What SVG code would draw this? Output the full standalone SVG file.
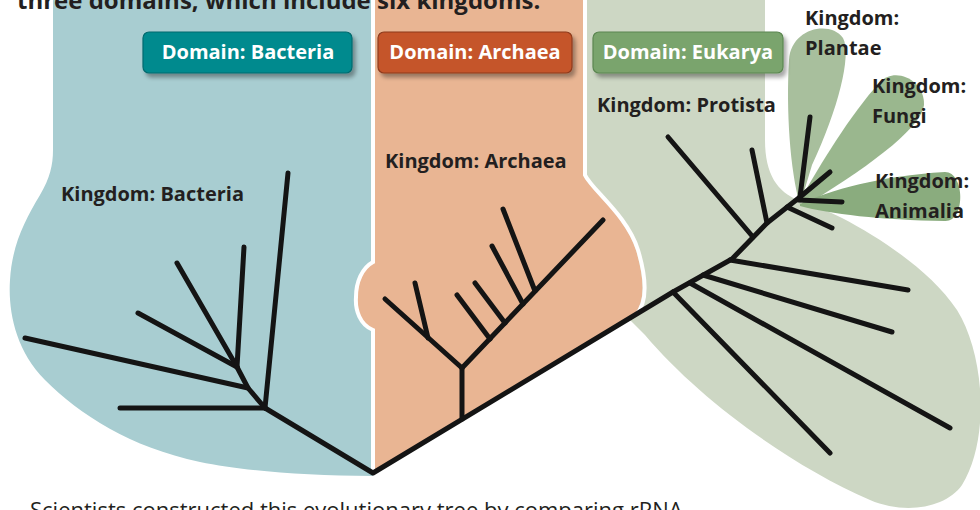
<svg xmlns="http://www.w3.org/2000/svg" width="980" height="510" viewBox="0 0 980 510">
<defs>
<style>
.lbl{font-family:"Open Sans","Liberation Sans",sans-serif;font-weight:700;font-size:20px;fill:#231f20}
.dom{font-family:"Open Sans","Liberation Sans",sans-serif;font-weight:700;font-size:20px;fill:#ffffff;text-anchor:middle}
.br{fill:none;stroke:#141414;stroke-width:5;stroke-linecap:round;stroke-linejoin:round}
.sep{fill:none;stroke:#ffffff;stroke-width:4}
.title{font-family:"Open Sans","Liberation Sans",sans-serif;font-weight:700;font-size:24px;fill:#231f20}
.cap{font-family:"Open Sans","Liberation Sans",sans-serif;font-weight:400;font-size:22px;fill:#231f20}
</style>
<filter id="sh" x="-10%" y="-20%" width="130%" height="160%">
<feGaussianBlur in="SourceAlpha" stdDeviation="2"/>
<feOffset dx="3" dy="4" result="b"/>
<feComponentTransfer><feFuncA type="linear" slope="0.35"/></feComponentTransfer>
<feMerge><feMergeNode/><feMergeNode in="SourceGraphic"/></feMerge>
</filter>
</defs>
<rect width="980" height="510" fill="#ffffff"/>

<!-- regions -->
<g id="region-bacteria">
<path d="M53,0 L373,0 L373,476 C300,476 240,470 200,462 C130,447 80,415 45,380 C15,350 8,310 10,280 C12,245 25,220 40,195 C50,178 53,165 53,150 Z" fill="#a8cdd1"/>
</g>
<g id="region-eukarya">
<path d="M588,0 L765,0 L765,140 C765,175 778,192 798,200 C815,206 830,212 842,218 C880,238 930,270 957,310 C985,355 990,440 962,485 C946,508 905,515 870,500 C790,465 700,400 645,335 L628,318 L560,240 L560,0 Z" fill="#cdd7c4"/>
<path d="M800,205 C790,170 786,110 789,60 C791,28 830,20 843,38 C852,55 838,110 812,165 Z" fill="#a8bf9d"/>
<path d="M800,200 C820,165 850,115 880,82 C895,66 925,80 924,105 C922,125 880,160 806,205 Z" fill="#9ab78e"/>
<path d="M800,204 C830,190 880,176 945,172 C965,172 966,222 945,221 C880,220 830,214 800,206 Z" fill="#8aac7e"/>
</g>
<g id="region-archaea">
<path d="M373,0 L583,0 L583,175 C590,190 625,215 636,250 C645,280 645,303 634,315 L373,473 L373,330 C360,325 355,310 356,297 C356,282 362,268 373,262 Z" fill="#e9b593"/>
</g>
<g id="separators">
<path class="sep" d="M373,0 L373,262 C362,268 356,282 356,297 C355,310 360,325 373,330 L373,470"/>
<path class="sep" d="M585,0 L585,175 C592,190 627,215 638,250 C647,280 647,303 636,315"/>
</g>

<!-- title & caption -->
<text class="title" x="17" y="9">three domains, which include six kingdoms.</text>
<text class="cap" x="30" y="518">Scientists constructed this evolutionary tree by comparing rRNA</text>

<!-- domain boxes -->
<g id="domain-bacteria">
<rect x="143" y="32" width="209" height="41" rx="6" fill="#008a8e" stroke="#006a6e" stroke-width="1.2" filter="url(#sh)"/>
<text class="dom" x="248" y="59">Domain: Bacteria</text>
</g>
<g id="domain-archaea">
<rect x="378" y="32" width="194" height="41" rx="6" fill="#c5552a" stroke="#8e3a1b" stroke-width="1.2" filter="url(#sh)"/>
<text class="dom" x="475" y="59">Domain: Archaea</text>
</g>
<g id="domain-eukarya">
<rect x="593" y="32" width="190" height="41" rx="6" fill="#7aa46d" stroke="#5a8650" stroke-width="1.2" filter="url(#sh)"/>
<text class="dom" x="688" y="59">Domain: Eukarya</text>
</g>

<!-- connectors (tree) -->
<g id="connectors">
<path class="br" d="M265,408 L373,473 L673,292 L732,259 L767,223 L800,197"/>
<!-- bacteria -->
<path class="br" d="M265,408 L120,408"/>
<path class="br" d="M265,408 L288,173"/>
<path class="br" d="M265,408 L248,388 L237,367"/>
<path class="br" d="M248,388 L25,338"/>
<path class="br" d="M237,367 L138,313"/>
<path class="br" d="M237,367 L177,263"/>
<path class="br" d="M237,367 L244,247"/>
<!-- archaea -->
<path class="br" d="M462,419 L462,368"/>
<path class="br" d="M462,368 L385,299"/>
<path class="br" d="M428,338 L415,283"/>
<path class="br" d="M462,368 L603,220"/>
<path class="br" d="M490,339 L457,295"/>
<path class="br" d="M505,323 L475,283"/>
<path class="br" d="M523,304 L492,246"/>
<path class="br" d="M535,291 L503,209"/>
<!-- eukarya -->
<path class="br" d="M673,292 L830,453"/>
<path class="br" d="M690,283 L950,428"/>
<path class="br" d="M703,275 L892,332"/>
<path class="br" d="M730,260 L908,290"/>
<path class="br" d="M753,237 L668,137"/>
<path class="br" d="M767,223 L752,150"/>
<path class="br" d="M787,207 L832,228"/>
<path class="br" d="M800,197 L810,117"/>
<path class="br" d="M800,197 L830,172"/>
<path class="br" d="M799,200 L842,202"/>
</g>

<!-- kingdom labels -->
<g id="kingdom-bacteria"><text class="lbl" x="61" y="201">Kingdom: Bacteria</text></g>
<g id="kingdom-archaea"><text class="lbl" x="385" y="168">Kingdom: Archaea</text></g>
<g id="kingdom-protista"><text class="lbl" x="597" y="112">Kingdom: Protista</text></g>
<g id="kingdom-plantae"><text class="lbl" x="805" y="25">Kingdom:</text><text class="lbl" x="805" y="55">Plantae</text></g>
<g id="kingdom-fungi"><text class="lbl" x="872" y="93">Kingdom:</text><text class="lbl" x="872" y="123">Fungi</text></g>
<g id="kingdom-animalia"><text class="lbl" x="875" y="188">Kingdom:</text><text class="lbl" x="875" y="218">Animalia</text></g>
</svg>
